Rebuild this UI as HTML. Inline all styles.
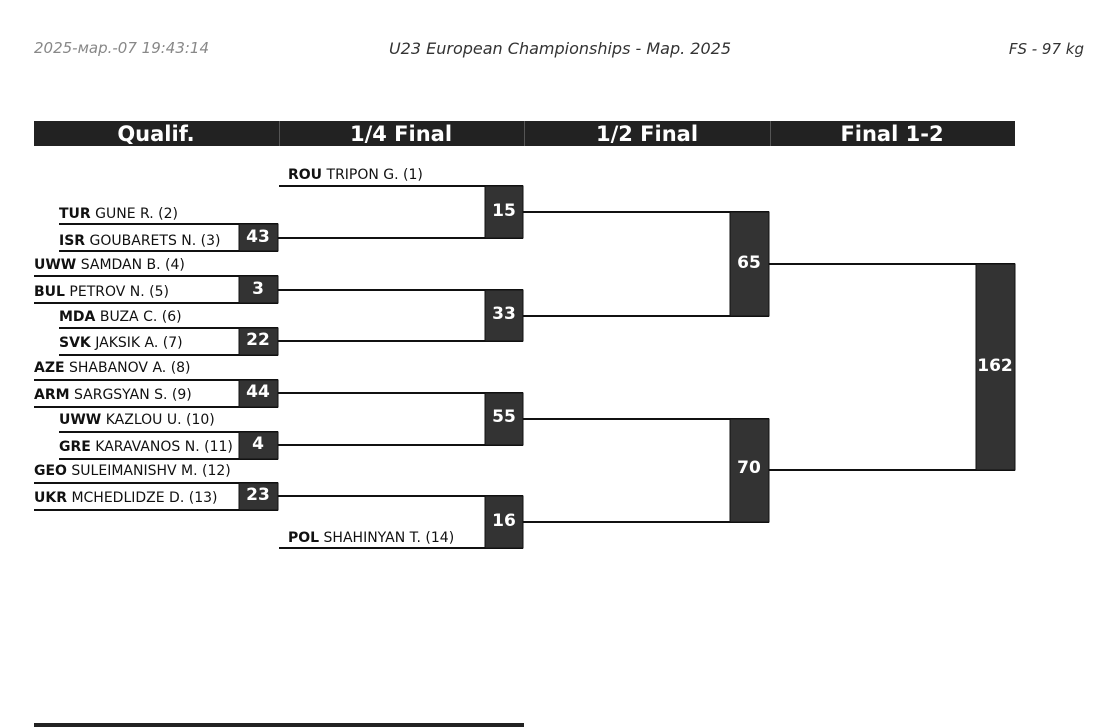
<!DOCTYPE html>
<html><head><meta charset="utf-8"><style>
html,body{margin:0;padding:0;background:#fff;width:1108px;height:727px;overflow:hidden}
svg{display:block}
text{font-family:"DejaVu Sans","Liberation Sans",sans-serif}
.n{font-size:14px;fill:#111}
.b{font-weight:bold}
.s{font-size:17px;font-weight:bold;fill:#fff;text-anchor:middle;dominant-baseline:central}
.h{font-size:21px;font-weight:bold;fill:#fff;text-anchor:middle}
.t{font-size:15px;font-style:oblique}
</style></head><body>
<svg width="1108" height="727" viewBox="0 0 1108 727">
<text class="t" x="34" y="53" fill="#888">2025-мар.-07 19:43:14</text>
<text class="t" x="560" y="54" fill="#333" text-anchor="middle" style="font-size:16px">U23 European Championships - Мар. 2025</text>
<text class="t" x="1084" y="54" fill="#333" text-anchor="end">FS - 97 kg</text>

<rect x="34" y="121" width="981" height="25" fill="#222"/>
<g stroke="#555" stroke-width="1"><line x1="279.5" y1="121" x2="279.5" y2="146"/><line x1="524.5" y1="121" x2="524.5" y2="146"/><line x1="770.5" y1="121" x2="770.5" y2="146"/></g>
<text class="h" x="156" y="141">Qualif.</text>
<text class="h" x="401" y="141">1/4 Final</text>
<text class="h" x="647" y="141">1/2 Final</text>
<text class="h" x="892" y="141">Final 1-2</text>

<g class="n">
<text x="59" y="218"><tspan class="b">TUR</tspan> GUNE R. (2)</text>
<text x="59" y="245"><tspan class="b">ISR</tspan> GOUBARETS N. (3)</text>
<text x="34" y="269"><tspan class="b">UWW</tspan> SAMDAN B. (4)</text>
<text x="34" y="296"><tspan class="b">BUL</tspan> PETROV N. (5)</text>
<text x="59" y="321"><tspan class="b">MDA</tspan> BUZA C. (6)</text>
<text x="59" y="347"><tspan class="b">SVK</tspan> JAKSIK A. (7)</text>
<text x="34" y="372"><tspan class="b">AZE</tspan> SHABANOV A. (8)</text>
<text x="34" y="399"><tspan class="b">ARM</tspan> SARGSYAN S. (9)</text>
<text x="59" y="424"><tspan class="b">UWW</tspan> KAZLOU U. (10)</text>
<text x="59" y="451"><tspan class="b">GRE</tspan> KARAVANOS N. (11)</text>
<text x="34" y="475"><tspan class="b">GEO</tspan> SULEIMANISHV M. (12)</text>
<text x="34" y="502"><tspan class="b">UKR</tspan> MCHEDLIDZE D. (13)</text>
<text x="288" y="179"><tspan class="b">ROU</tspan> TRIPON G. (1)</text>
<text x="288" y="542"><tspan class="b">POL</tspan> SHAHINYAN T. (14)</text>
</g>

<g stroke="#111" stroke-width="2" fill="none">
<line x1="59" y1="224" x2="278" y2="224"/><line x1="59" y1="251" x2="278" y2="251"/>
<line x1="34" y1="276" x2="278" y2="276"/><line x1="34" y1="303" x2="278" y2="303"/>
<line x1="59" y1="328" x2="278" y2="328"/><line x1="59" y1="355" x2="278" y2="355"/>
<line x1="34" y1="380" x2="278" y2="380"/><line x1="34" y1="407" x2="278" y2="407"/>
<line x1="59" y1="432" x2="278" y2="432"/><line x1="59" y1="459" x2="278" y2="459"/>
<line x1="34" y1="483" x2="278" y2="483"/><line x1="34" y1="510" x2="278" y2="510"/>
<line x1="279" y1="186" x2="523" y2="186"/><line x1="278" y1="238" x2="523" y2="238"/>
<line x1="278" y1="290" x2="523" y2="290"/><line x1="278" y1="341" x2="523" y2="341"/>
<line x1="278" y1="393" x2="523" y2="393"/><line x1="278" y1="445" x2="523" y2="445"/>
<line x1="278" y1="496" x2="523" y2="496"/><line x1="279" y1="548" x2="523" y2="548"/>
<line x1="523" y1="212" x2="769" y2="212"/><line x1="523" y1="316" x2="769" y2="316"/>
<line x1="523" y1="419" x2="769" y2="419"/><line x1="523" y1="522" x2="769" y2="522"/>
<line x1="769" y1="264" x2="1015" y2="264"/><line x1="769" y1="470" x2="1015" y2="470"/>
</g>

<g fill="#333" stroke="#111" stroke-width="1">
<rect x="239" y="224" width="39" height="27"/>
<rect x="239" y="276" width="39" height="27"/>
<rect x="239" y="328" width="39" height="27"/>
<rect x="239" y="380" width="39" height="27"/>
<rect x="239" y="432" width="39" height="27"/>
<rect x="239" y="483" width="39" height="27"/>
<rect x="485" y="186" width="38" height="52"/>
<rect x="485" y="290" width="38" height="51"/>
<rect x="485" y="393" width="38" height="52"/>
<rect x="485" y="496" width="38" height="52"/>
<rect x="730" y="212" width="39" height="104"/>
<rect x="730" y="419" width="39" height="103"/>
<rect x="976" y="264" width="39" height="206"/>
</g>
<g class="s">
<text x="258" y="237">43</text><text x="258" y="289">3</text><text x="258" y="340">22</text>
<text x="258" y="392">44</text><text x="258" y="444">4</text><text x="258" y="495">23</text>
<text x="504" y="211">15</text><text x="504" y="314">33</text><text x="504" y="417">55</text><text x="504" y="521">16</text>
<text x="749" y="263">65</text><text x="749" y="468">70</text><text x="995" y="366">162</text>
</g>

<rect x="34" y="723" width="490" height="4" fill="#222"/>
</svg>
</body></html>
